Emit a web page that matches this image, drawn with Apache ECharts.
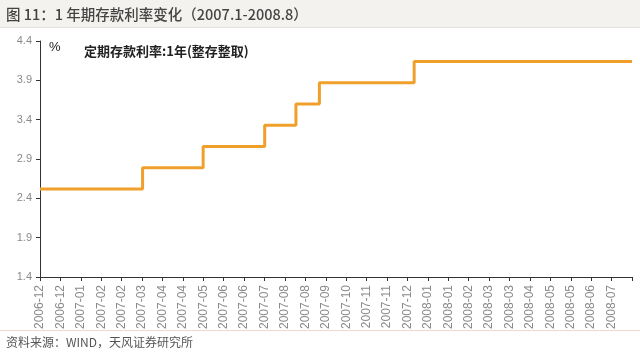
<!DOCTYPE html>
<html>
<head>
<meta charset="utf-8">
<script src="https://cdn.jsdelivr.net/npm/echarts@6/dist/echarts.min.js"></script>
<style>
  html, body { margin: 0; padding: 0; background: #fff; }
  #chart { width: 640px; height: 354px; }
</style>
</head>
<body>
<div id="chart"></div>
<script>
// Tick labels as printed under the axis (last tick has no label)
const tickLabels = [
  '2006-12', '2006-12', '2007-01', '2007-02', '2007-02', '2007-03', '2007-04', '2007-04',
  '2007-05', '2007-06', '2007-06', '2007-07', '2007-08', '2007-08', '2007-09', '2007-10',
  '2007-11', '2007-11', '2007-12', '2008-01', '2008-01', '2008-02', '2008-03', '2008-03',
  '2008-04', '2008-05', '2008-05', '2008-06', '2008-07', ''
];

// Rate change dates and the 1-year deposit rate from that date (%)
const changeDates = ['2006-12-03', '2007-03-18', '2007-05-19', '2007-07-21',
  '2007-08-22', '2007-09-15', '2007-12-21', '2008-07-31'];
const rates = [2.52, 2.79, 3.06, 3.33, 3.60, 3.87, 4.14, 4.14];

const seriesName = '定期存款利率:1年(整存整取)';
const axisGray = '#8a8a8a';
const lineColor = '#f0a02a';

const chart = echarts.init(document.getElementById('chart'));

chart.setOption({
  animation: false,
  backgroundColor: '#fff',
  textStyle: { fontFamily: '"Noto Sans CJK SC", "Liberation Sans", sans-serif' },
  graphic: [
    { type: 'rect', left: 0, top: 0, shape: { width: 640, height: 27 }, style: { fill: '#f3f2ee' }, z: -1 },
    { type: 'rect', left: 0, top: 27, shape: { width: 640, height: 1 }, style: { fill: '#e4e0da' } },
    { type: 'text', left: 6, top: 7, style: {
        text: '图 11：1 年期存款利率变化（2007.1-2008.8）',
        font: '500 14.5px "Noto Sans CJK SC"', fill: '#444' } },
    { type: 'text', left: 49, top: 41, style: {
        text: '%', font: '13px "Liberation Sans"', fill: '#222' } },
    { type: 'rect', left: 0, top: 330, shape: { width: 640, height: 1 }, style: { fill: '#f0d6cc' } },
    { type: 'text', left: 6, top: 336, style: {
        text: '资料来源：WIND，天风证券研究所',
        font: '12px "Noto Sans CJK SC"', fill: '#555' } }
  ],
  legend: {
    left: 74, top: 39,
    icon: 'none',
    itemWidth: 0, itemGap: 0,
    selectedMode: false,
    textStyle: { fontSize: 13, fontWeight: 'bold', color: '#222', fontFamily: '"Noto Sans CJK SC"' },
    data: [seriesName]
  },
  grid: { left: 40, right: 8, top: 41, bottom: 77, containLabel: false },
  xAxis: [
    {
      type: 'category',
      data: tickLabels,
      boundaryGap: false,
      axisLine: { lineStyle: { color: '#333', width: 1 } },
      axisTick: { show: true, interval: 0, length: 4, lineStyle: { color: '#333' } },
      axisLabel: { interval: 0, rotate: 90, fontSize: 12, color: axisGray, margin: 8,
        fontFamily: '"Liberation Sans"' },
      splitLine: { show: false }
    },
    {
      type: 'time',
      show: false,
      min: changeDates[0],
      max: changeDates[changeDates.length - 1]
    }
  ],
  yAxis: {
    type: 'value',
    min: 1.4, max: 4.4, interval: 0.5,
    axisLine: { show: true, lineStyle: { color: '#333', width: 1 } },
    axisTick: { show: true, length: 4, lineStyle: { color: '#333' } },
    axisLabel: { fontSize: 11, color: axisGray, margin: 8, fontFamily: '"Liberation Sans"',
      formatter: v => v.toFixed(1) },
    splitLine: { show: false }
  },
  series: [{
    name: seriesName,
    type: 'line',
    xAxisIndex: 1,
    step: 'end',
    symbol: 'none',
    lineStyle: { color: lineColor, width: 3 },
    itemStyle: { color: lineColor },
    data: changeDates.map((d, i) => [d, rates[i]])
  }]
});
</script>
</body>
</html>
